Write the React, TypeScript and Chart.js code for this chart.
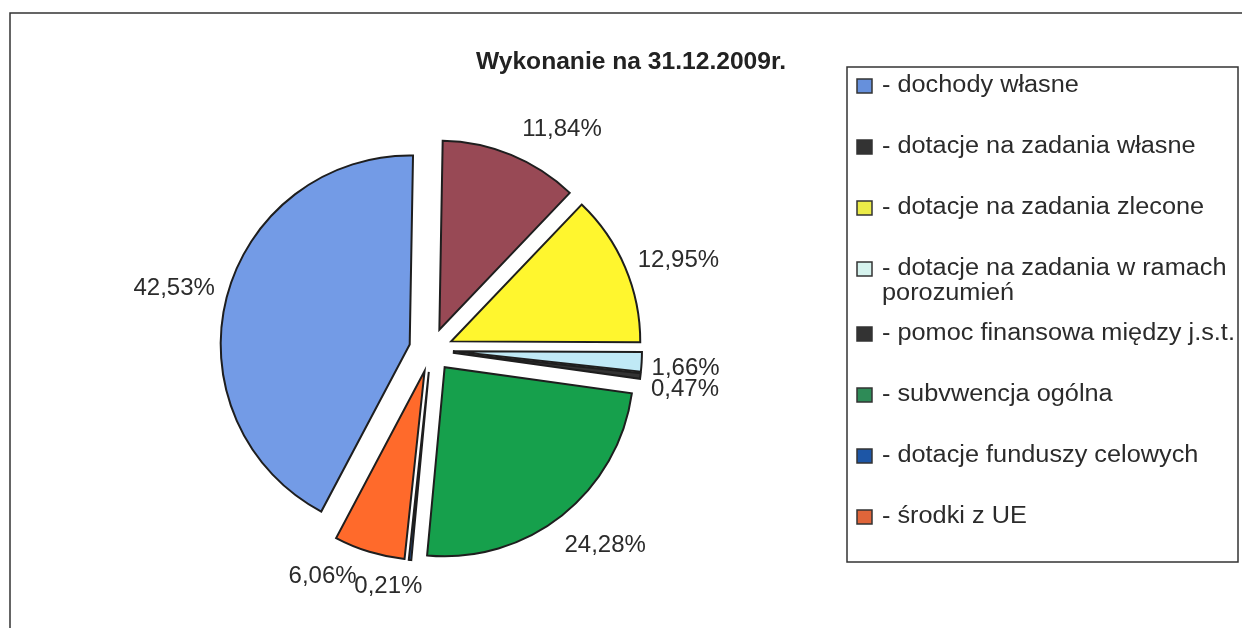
import React, { useEffect, useRef } from "react";
import { Chart, registerables } from "chart.js";

Chart.register(...registerables);

const TITLE = "Wykonanie na 31.12.2009r.";
const categories = [
  "dochody własne",
  "dotacje na zadania własne",
  "dotacje na zadania zlecone",
  "dotacje na zadania w ramach porozumień",
  "pomoc finansowa między j.s.t.",
  "subvwencja ogólna",
  "dotacje funduszy celowych",
  "środki z UE",
];
const shares = [42.53, 11.84, 12.95, 1.66, 0.47, 24.28, 0.21, 6.06];
const sliceColors = ["#739BE6", "#984955", "#FFF62E", "#C0E9F6", "#333333", "#16A04C", "#1F5BB0", "#FF6A2B"];
const legendColors = ["#6690DC", "#333333", "#ECEC48", "#D6F3EE", "#333333", "#2E8B57", "#1D56A6", "#E0653A"];
// small nudges of the percentage labels away from their radial default spot
const labelNudges = [
  [-7, 3],
  [33, 18],
  [10, 11],
  [-3, 4],
  [-2, 8],
  [14, -7],
  [-17, -20],
  [-33, -20],
];

const FONT = "'Liberation Sans', Arial, Helvetica, sans-serif";
const EXPLODE = 22;
const LABEL_DIST = 236;
const INK = "#2b2b2b";

function scaledText(
  ctx: CanvasRenderingContext2D,
  text: string,
  x: number,
  y: number,
  align: CanvasTextAlign,
  sx: number
) {
  ctx.save();
  ctx.translate(x, y);
  ctx.scale(sx, 1);
  ctx.textAlign = align;
  ctx.fillText(text, 0, 0);
  ctx.restore();
}

const scanPiePlugin = {
  id: "scanPie",
  beforeDatasetDraw(chart: any, args: any) {
    const ctx: CanvasRenderingContext2D = chart.ctx;
    args.meta.data.forEach((el: any) => {
      const mid = (el.startAngle + el.endAngle) / 2;
      ctx.save();
      ctx.translate(Math.cos(mid) * EXPLODE, Math.sin(mid) * EXPLODE);
      el.draw(ctx);
      ctx.restore();
    });
    return false;
  },
  afterDraw(chart: any) {
    const ctx: CanvasRenderingContext2D = chart.ctx;
    ctx.save();
    // outer frame
    ctx.strokeStyle = "#333";
    ctx.lineWidth = 1.5;
    ctx.beginPath();
    ctx.moveTo(10, 628);
    ctx.lineTo(10, 13);
    ctx.lineTo(1242, 13);
    ctx.stroke();

    // title
    ctx.fillStyle = "#222";
    ctx.textBaseline = "middle";
    ctx.font = `bold 23px ${FONT}`;
    scaledText(ctx, TITLE, 631, 63, "center", 1.07);

    // percentage labels
    ctx.font = `24px ${FONT}`;
    ctx.fillStyle = INK;
    const meta = chart.getDatasetMeta(0);
    meta.data.forEach((el: any, i: number) => {
      const mid = (el.startAngle + el.endAngle) / 2;
      const cx = Math.cos(mid);
      const cy = Math.sin(mid);
      const ax = el.x + cx * EXPLODE;
      const ay = el.y + cy * EXPLODE;
      const [nx, ny] = labelNudges[i];
      const txt = shares[i].toFixed(2).replace(".", ",") + "%";
      scaledText(ctx, txt, ax + cx * LABEL_DIST + nx, ay + cy * LABEL_DIST + ny, "center", 1.0);
    });

    // legend
    const LSX = 1.1;
    ctx.strokeStyle = "#333";
    ctx.lineWidth = 1.5;
    ctx.strokeRect(847, 67, 391, 495);
    ctx.font = `23px ${FONT}`;
    const textX = 882;
    const maxW = 362;
    let y = 86;
    categories.forEach((cat, i) => {
      ctx.fillStyle = legendColors[i];
      ctx.fillRect(857, y - 7, 15, 14);
      ctx.strokeStyle = "#333";
      ctx.lineWidth = 1.5;
      ctx.strokeRect(857, y - 7, 15, 14);
      const words = ("- " + cat).split(" ");
      const lines: string[] = [];
      let cur = "";
      words.forEach((w) => {
        const test = cur ? cur + " " + w : w;
        if (cur && ctx.measureText(test).width * LSX > maxW) {
          lines.push(cur);
          cur = w;
        } else {
          cur = test;
        }
      });
      if (cur) lines.push(cur);
      ctx.fillStyle = INK;
      lines.forEach((ln, k) => {
        scaledText(ctx, ln, textX, y + k * 25, "left", LSX);
      });
      y += 61 + (lines.length - 1) * 4;
    });
    ctx.restore();
  },
};

export default function App() {
  const ref = useRef<HTMLCanvasElement | null>(null);
  useEffect(() => {
    if (!ref.current) return;
    const chart = new Chart(ref.current, {
      type: "pie",
      data: {
        labels: categories,
        datasets: [
          {
            data: shares,
            backgroundColor: sliceColors,
            borderColor: "#1e1e1e",
            borderWidth: 2,
            borderJoinStyle: "miter",
          } as any,
        ],
      },
      options: {
        responsive: false,
        animation: false,
        rotation: -152.1,
        radius: 189,
        layout: { padding: { left: 231, right: 611, top: 150, bottom: 78 } },
        plugins: {
          legend: { display: false },
          title: { display: false },
          tooltip: { enabled: false },
        },
        events: [],
      } as any,
      plugins: [scanPiePlugin],
    });
    return () => chart.destroy();
  }, []);
  return (
    <div style={{ position: "fixed", left: 0, top: 0, width: 1242, height: 628, background: "#fff" }}>
      <canvas ref={ref} width={1242} height={628} style={{ display: "block" }} />
    </div>
  );
}
